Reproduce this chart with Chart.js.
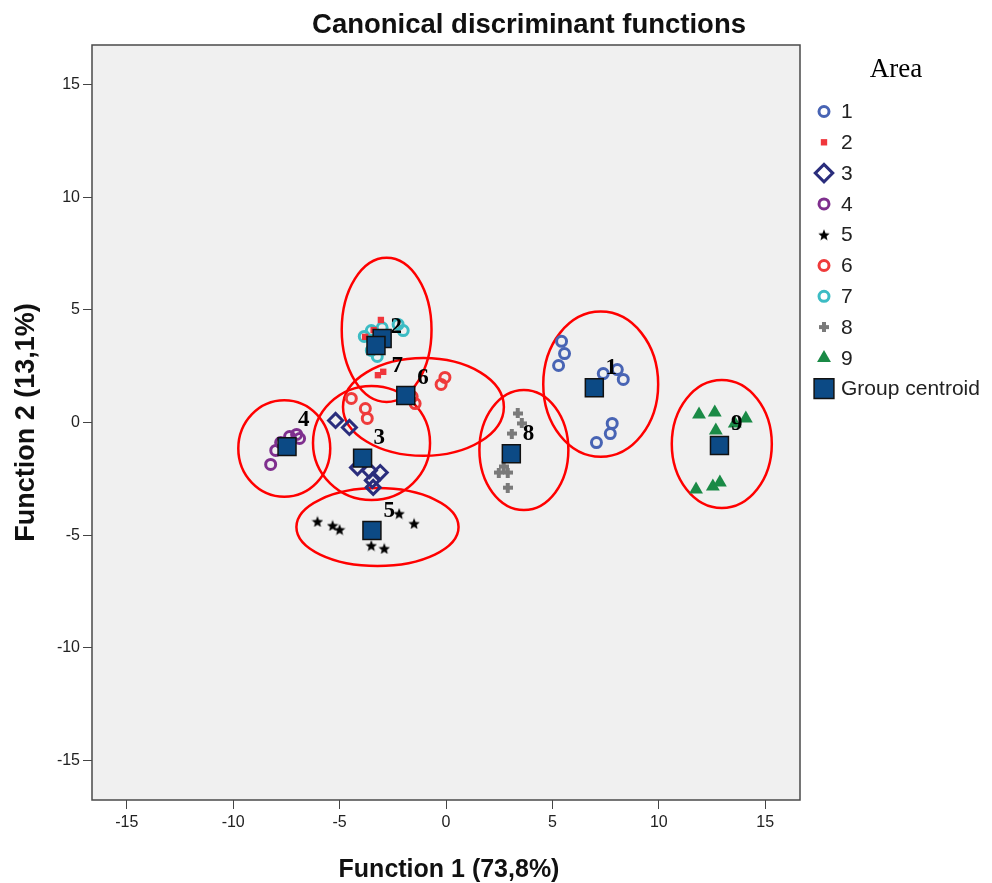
<!DOCTYPE html>
<html>
<head>
<meta charset="utf-8">
<script src="https://cdn.jsdelivr.net/npm/chart.js@4.4.0/dist/chart.umd.min.js"></script>
<style>
html,body{margin:0;padding:0;background:#fff;}
#wrap{width:992px;height:883px;position:relative;}
</style>
</head>
<body>
<div id="wrap"><canvas id="c" width="992" height="883"></canvas></div>
<script>
// ---------- data ----------
const areaNames = ['1','2','3','4','5','6','7','8','9'];
const area1X = [5.43, 5.57, 5.29, 7.39, 8.05, 8.33, 7.81, 7.72, 7.07];
const area1Y = [3.60, 3.06, 2.53, 2.17, 2.35, 1.91, -0.04, -0.49, -0.89];
const area2X = [-3.06, -3.80, -3.40, -3.20, -2.95];
const area2Y = [4.55, 3.80, 4.10, 2.10, 2.25];
const area3X = [-5.19, -4.54, -4.16, -3.60, -3.09, -3.46, -3.42];
const area3Y = [0.09, -0.22, -2.00, -2.13, -2.22, -2.57, -2.88];
const area4X = [-8.24, -8.00, -7.77, -7.35, -7.02, -6.88];
const area4Y = [-1.86, -1.24, -0.89, -0.62, -0.53, -0.71];
const area5X = [-6.04, -5.33, -5.00, -2.20, -1.50, -3.51, -2.90];
const area5Y = [-4.39, -4.57, -4.75, -4.04, -4.48, -5.46, -5.59];
const area6X = [-4.45, -3.79, -3.70, -0.23, -0.05, -1.59, -1.45];
const area6Y = [1.07, 0.62, 0.18, 1.69, 2.00, 1.15, 0.84];
const area7X = [-3.84, -3.51, -3.23, -2.25, -2.01, -3.51, -3.00];
const area7Y = [3.82, 4.08, 2.93, 4.35, 4.08, 3.20, 4.20];
const area8X = [3.37, 3.56, 3.09, 2.48, 2.90, 2.71, 2.90];
const area8Y = [0.40, -0.04, -0.49, -2.22, -2.22, -1.95, -2.89];
const area9X = [11.89, 12.63, 14.09, 13.57, 12.68, 11.75, 12.54, 12.87];
const area9Y = [0.36, 0.44, 0.18, -0.04, -0.36, -2.97, -2.84, -2.66];

const centroidX = [6.97, -3.00, -3.92, -7.47, -3.48, -1.89, -3.29, 3.07, 12.85];
const centroidY = [1.54, 3.73, -1.58, -1.07, -4.79, 1.20, 3.42, -1.39, -1.02];

// hand-drawn group annotations (label text and ellipse outlines, in axis units)
const labelText = ['1','2','3','4','5','6','7','8','9'];
const labelX = [7.77, -2.34, -3.14, -6.69, -2.67, -1.08, -2.29, 3.88, 13.66];
const labelY = [2.40, 4.22, -0.71, 0.09, -3.91, 1.95, 2.49, -0.53, -0.09];
const ellipseGroup = ['1', '2/7', '3', '4', '5', '6', '8', '9'];
const ellipseCX = [7.27, -2.79, -3.50, -7.60, -3.22, -1.06, 3.66, 12.96];
const ellipseCY = [1.70, 4.11, -0.91, -1.15, -4.64, 0.69, -1.22, -0.95];
const ellipseRX = [2.70, 2.11, 2.75, 2.16, 3.81, 3.78, 2.09, 2.35];
const ellipseRY = [3.22, 3.20, 2.53, 2.14, 1.73, 2.17, 2.66, 2.84];

const xTicks = [-15, -10, -5, 0, 5, 10, 15];
const yTicks = [-15, -10, -5, 0, 5, 10, 15];

const chartTitle = 'Canonical discriminant functions';
const xTitle = 'Function 1 (73,8%)';
const yTitle = 'Function 2 (13,1%)';
const legendTitle = 'Area';
const centroidName = 'Group centroid';

// ---------- styles ----------
function makeStar(size, color) {
  const c = document.createElement('canvas');
  c.width = size; c.height = size;
  const g = c.getContext('2d');
  g.fillStyle = color;
  g.beginPath();
  for (let i = 0; i < 10; i++) {
    const r = i % 2 ? size * 0.22 : size * 0.5;
    const a = -Math.PI / 2 + i * Math.PI / 5;
    g.lineTo(size / 2 + r * Math.cos(a), size / 2 + r * Math.sin(a) + size * 0.05);
  }
  g.closePath();
  g.fill();
  return c;
}
function makePlus(size, arm, color) {
  const c = document.createElement('canvas');
  c.width = size; c.height = size;
  const g = c.getContext('2d');
  g.fillStyle = color;
  const o = (size - arm) / 2;
  g.fillRect(o, 0, arm, size);
  g.fillRect(0, o, size, arm);
  return c;
}
const starImg = makeStar(12, '#000000');
const plusImg = makePlus(10, 4, '#7a7a7a');

const seriesStyle = [
  {pointStyle: 'circle', radius: 5, borderWidth: 3, borderColor: '#4864b4', backgroundColor: 'rgba(0,0,0,0)'},
  {pointStyle: 'rect', radius: 4.5, borderWidth: 0, borderColor: '#f0363c', backgroundColor: '#f0363c'},
  {pointStyle: 'rectRot', radius: 7, borderWidth: 3, borderColor: '#2a2d7c', backgroundColor: 'rgba(0,0,0,0)'},
  {pointStyle: 'circle', radius: 5, borderWidth: 3, borderColor: '#7f2f8e', backgroundColor: 'rgba(0,0,0,0)'},
  {pointStyle: starImg, radius: 6, borderWidth: 0, borderColor: '#000', backgroundColor: '#000'},
  {pointStyle: 'circle', radius: 5, borderWidth: 3, borderColor: '#ef3b3b', backgroundColor: 'rgba(0,0,0,0)'},
  {pointStyle: 'circle', radius: 5, borderWidth: 3, borderColor: '#3cbcc4', backgroundColor: 'rgba(0,0,0,0)'},
  {pointStyle: plusImg, radius: 5, borderWidth: 0, borderColor: '#7a7a7a', backgroundColor: '#7a7a7a'},
  {pointStyle: 'triangle', radius: 8, borderWidth: 0, borderColor: '#1a8a46', backgroundColor: '#1a8a46'}
];
const centroidStyle = {pointStyle: 'rect', radius: 12.7, borderWidth: 1.5, borderColor: '#111111', backgroundColor: '#0c4a85'};

const seriesX = [area1X, area2X, area3X, area4X, area5X, area6X, area7X, area8X, area9X];
const seriesY = [area1Y, area2Y, area3Y, area4Y, area5Y, area6Y, area7Y, area8Y, area9Y];

const datasets = [];
datasets.push({
  label: centroidName,
  data: centroidX.map((x, i) => ({x: x, y: centroidY[i]})),
  order: 0,
  pointStyle: centroidStyle.pointStyle,
  pointRadius: centroidStyle.radius,
  pointHoverRadius: centroidStyle.radius,
  pointBorderWidth: centroidStyle.borderWidth,
  pointBorderColor: centroidStyle.borderColor,
  pointBackgroundColor: centroidStyle.backgroundColor,
  borderColor: centroidStyle.borderColor,
  backgroundColor: centroidStyle.backgroundColor
});
areaNames.forEach((name, k) => {
  const s = seriesStyle[k];
  datasets.push({
    label: name,
    data: seriesX[k].map((x, i) => ({x: x, y: seriesY[k][i]})),
    order: 1,
    pointStyle: s.pointStyle,
    pointRadius: s.radius,
    pointBorderWidth: s.borderWidth,
    pointBorderColor: s.borderColor,
    pointBackgroundColor: s.backgroundColor,
    borderColor: s.borderColor,
    backgroundColor: s.backgroundColor
  });
});

// ---------- drawing helpers ----------
function drawMarker(ctx, s, x, y, scale) {
  scale = scale || 1;
  const r = s.radius * scale;
  ctx.save();
  ctx.lineWidth = s.borderWidth;
  ctx.strokeStyle = s.borderColor;
  ctx.fillStyle = s.backgroundColor;
  const ps = s.pointStyle;
  if (typeof ps !== 'string') {
    const w = ps.width * scale, h = ps.height * scale;
    ctx.drawImage(ps, x - w / 2, y - h / 2, w, h);
    ctx.restore();
    return;
  }
  ctx.beginPath();
  if (ps === 'circle') {
    ctx.arc(x, y, r, 0, Math.PI * 2);
  } else if (ps === 'rect') {
    const h = Math.SQRT1_2 * r;
    ctx.rect(x - h, y - h, 2 * h, 2 * h);
  } else if (ps === 'rectRot') {
    ctx.moveTo(x - r, y); ctx.lineTo(x, y - r); ctx.lineTo(x + r, y); ctx.lineTo(x, y + r); ctx.closePath();
  } else if (ps === 'triangle') {
    for (let i = 0; i < 3; i++) {
      const a = -Math.PI / 2 + i * 2 * Math.PI / 3;
      ctx.lineTo(x + r * Math.cos(a), y + r * Math.sin(a));
    }
    ctx.closePath();
  }
  ctx.fill();
  if (s.borderWidth > 0) ctx.stroke();
  ctx.restore();
}

const SANS = '"Liberation Sans", Arial, sans-serif';
const SERIF = '"Liberation Serif", "Times New Roman", serif';

const decorPlugin = {
  id: 'decor',
  beforeDatasetsDraw(chart) {
    const {ctx, chartArea: a, scales} = chart;
    const xs = scales.x, ys = scales.y;
    ctx.save();
    ctx.fillStyle = '#f0f0f0';
    ctx.fillRect(a.left, a.top, a.right - a.left, a.bottom - a.top);
    // ellipses (under the markers)
    ctx.beginPath();
    ctx.rect(a.left, a.top, a.right - a.left, a.bottom - a.top);
    ctx.clip();
    ctx.strokeStyle = '#ff0000';
    ctx.lineWidth = 2.5;
    ellipseCX.forEach((cx, i) => {
      const px = xs.getPixelForValue(cx), py = ys.getPixelForValue(ellipseCY[i]);
      const rx = Math.abs(xs.getPixelForValue(cx + ellipseRX[i]) - px);
      const ry = Math.abs(ys.getPixelForValue(ellipseCY[i] + ellipseRY[i]) - py);
      ctx.beginPath();
      ctx.ellipse(px, py, rx, ry, 0, 0, Math.PI * 2);
      ctx.stroke();
    });
    ctx.restore();
  },
  afterDatasetsDraw(chart) {
    const {ctx, chartArea: a, scales} = chart;
    const xs = scales.x, ys = scales.y;
    ctx.save();
    // group labels
    ctx.fillStyle = '#000';
    ctx.font = 'bold 23px ' + SERIF;
    ctx.textAlign = 'center';
    ctx.textBaseline = 'middle';
    labelText.forEach((t, i) => {
      ctx.fillText(t, xs.getPixelForValue(labelX[i]), ys.getPixelForValue(labelY[i]));
    });
    ctx.restore();
    // frame
    ctx.save();
    ctx.strokeStyle = '#4a4a4a';
    ctx.lineWidth = 1.5;
    ctx.strokeRect(a.left, a.top, a.right - a.left, a.bottom - a.top);
    ctx.restore();
  },
  afterDraw(chart) {
    const {ctx, chartArea: a} = chart;
    ctx.save();
    // chart title
    ctx.fillStyle = '#111';
    ctx.font = 'bold 27.5px ' + SANS;
    ctx.textAlign = 'center';
    ctx.textBaseline = 'alphabetic';
    ctx.fillText(chartTitle, 529, 33);
    // x title
    ctx.font = 'bold 25px ' + SANS;
    ctx.fillText(xTitle, (a.left + a.right) / 2 + 3, 877);
    // y title
    ctx.save();
    ctx.translate(33.5, (a.top + a.bottom) / 2);
    ctx.rotate(-Math.PI / 2);
    ctx.font = 'bold 27px ' + SANS;
    ctx.fillText(yTitle, 0, 0);
    ctx.restore();
    // legend
    ctx.font = '27px ' + SERIF;
    ctx.fillStyle = '#000';
    ctx.fillText(legendTitle, 896, 77);
    ctx.textAlign = 'left';
    ctx.textBaseline = 'middle';
    ctx.font = '21px ' + SANS;
    const rowH = 30.8, y0 = 111.5, mx = 824, tx = 841;
    const legendScale = [1, 1, 1.25, 1, 1, 1, 1, 1, 1];
    areaNames.forEach((n, i) => {
      const y = y0 + i * rowH;
      drawMarker(ctx, seriesStyle[i], mx, y, legendScale[i]);
      ctx.fillStyle = '#222';
      ctx.fillText(n, tx, y + 1);
    });
    const yc = y0 + 9 * rowH;
    drawMarker(ctx, Object.assign({}, centroidStyle, {radius: 14}), mx, yc, 1);
    ctx.fillStyle = '#222';
    ctx.fillText(centroidName, tx, yc + 1);
    ctx.restore();
  }
};

const tickFont = {family: SANS, size: 16};

new Chart(document.getElementById('c'), {
  type: 'scatter',
  data: {datasets: datasets},
  options: {
    responsive: false,
    animation: false,
    devicePixelRatio: 1,
    layout: {padding: {left: 0, top: 45, right: 192, bottom: 0}},
    plugins: {
      legend: {display: false},
      title: {display: false},
      tooltip: {enabled: false}
    },
    scales: {
      x: {
        type: 'linear',
        position: 'bottom',
        min: -16.635,
        max: 16.635,
        afterBuildTicks(scale) { scale.ticks = xTicks.map(v => ({value: v})); },
        afterFit(scale) { scale.height = 83; },
        ticks: {font: tickFont, color: '#222', padding: 4, maxRotation: 0, autoSkip: false},
        grid: {drawOnChartArea: false, drawTicks: true, tickLength: 9, color: '#444', lineWidth: 1},
        border: {display: false}
      },
      y: {
        type: 'linear',
        position: 'left',
        min: -16.75,
        max: 16.75,
        afterBuildTicks(scale) { scale.ticks = yTicks.map(v => ({value: v})); },
        afterFit(scale) { scale.width = 92; },
        ticks: {font: tickFont, color: '#222', padding: 3, autoSkip: false},
        grid: {drawOnChartArea: false, drawTicks: true, tickLength: 9, color: '#444', lineWidth: 1},
        border: {display: false}
      }
    }
  },
  plugins: [decorPlugin]
});
</script>
</body>
</html>
